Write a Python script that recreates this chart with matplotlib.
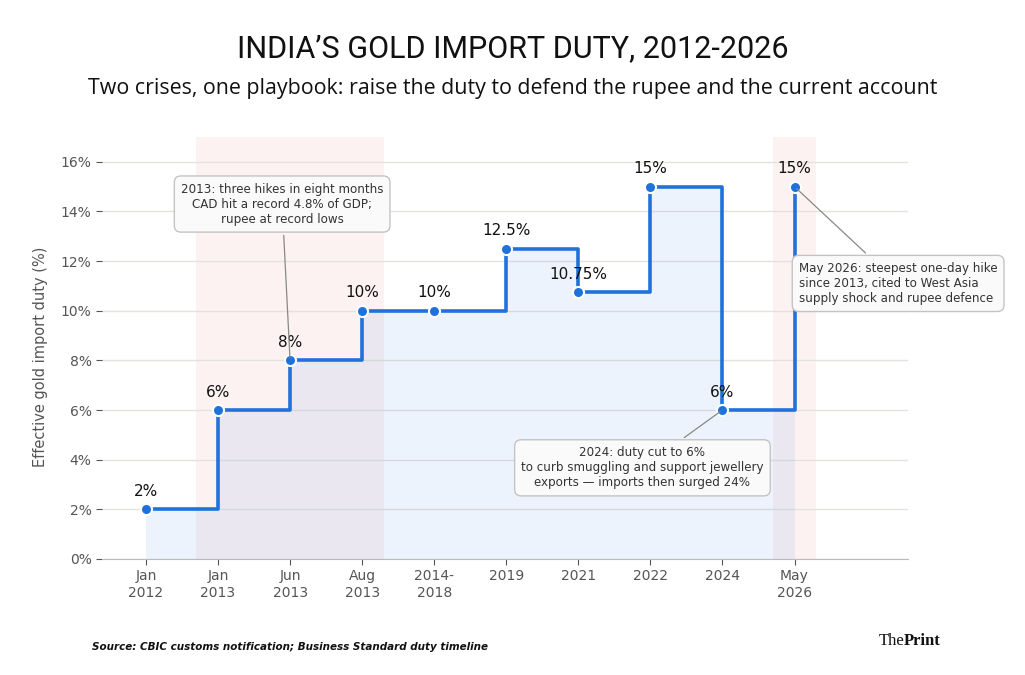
import matplotlib
matplotlib.use("Agg")
import matplotlib.pyplot as plt
import numpy as np

# data
labels = ["Jan\n2012", "Jan\n2013", "Jun\n2013", "Aug\n2013", "2014-\n2018",
          "2019", "2021", "2022", "2024", "May\n2026"]
duty = [2, 6, 8, 10, 10, 12.5, 10.75, 15, 6, 15]
value_text = ["2%", "6%", "8%", "10%", "10%", "12.5%", "10.75%", "15%", "6%", "15%"]
crisis_spans = [(0.7, 3.3), (8.7, 9.3)]

blue = "#1f72dc"
x = np.arange(len(duty))

fig = plt.figure(figsize=(10.25, 6.75), dpi=100)
ax = fig.add_axes([0.0995, 0.172, 0.786, 0.625])

for a, b in crisis_spans:
    ax.axvspan(a, b, color="#e98080", alpha=0.1, lw=0, zorder=0)

ax.fill_between(x, duty, step="post", color=blue, alpha=0.08, lw=0, zorder=1)
ax.step(x, duty, where="post", color=blue, lw=2.6, zorder=3)
ax.plot(x, duty, "o", color=blue, ms=8, mec="white", mew=1.5, zorder=4)

for xi, yi, t in zip(x, duty, value_text):
    ax.annotate(t, (xi, yi), xytext=(0, 7.5), textcoords="offset points",
                ha="center", va="bottom", fontsize=11, color="#111111")

box = dict(boxstyle="round,pad=0.55", fc="#fafafa", ec="#c4c4c4", lw=1)
arrow = dict(arrowstyle="-", color="#888888", lw=0.9)
ax.annotate("2013: three hikes in eight months\nCAD hit a record 4.8% of GDP;\nrupee at record lows",
            xy=(2, 8), xytext=(1.89, 14.3), ha="center", va="center",
            fontsize=8.6, color="#333333", bbox=box, arrowprops=arrow, zorder=5)
ax.annotate("2024: duty cut to 6%\nto curb smuggling and support jewellery\nexports \u2014 imports then surged 24%",
            xy=(8, 6), xytext=(6.89, 3.67), ha="center", va="center",
            fontsize=8.6, color="#333333", bbox=box, arrowprops=arrow, zorder=5)
ax.annotate("May 2026: steepest one-day hike\nsince 2013, cited to West Asia\nsupply shock and rupee defence",
            xy=(9, 15), xytext=(9.06, 11.1), ha="left", va="center",
            fontsize=8.6, color="#333333", bbox=box, arrowprops=arrow,
            annotation_clip=False, zorder=5)

ax.set_xlim(-0.61, 10.57)
ax.set_ylim(0, 17)
ax.set_xticks(x)
ax.set_xticklabels(labels)
ax.set_yticks(np.arange(0, 17, 2))
ax.set_yticklabels([f"{v}%" for v in range(0, 17, 2)])
ax.tick_params(colors="#555555", labelsize=10, length=4, color="#555555")
ax.set_ylabel("Effective gold import duty (%)", fontsize=10.5, color="#555555")
ax.yaxis.set_label_coords(-0.067, 0.478)
ax.grid(axis="y", color="#e4e2dc", lw=1)
ax.set_axisbelow(True)
for s in ["top", "right", "left"]:
    ax.spines[s].set_visible(False)
ax.spines["bottom"].set_color("#bbbbbb")

fig.text(0.5, 0.928, "INDIA\u2019S GOLD IMPORT DUTY, 2012-2026", ha="center", va="center",
         fontsize=22, family=["Roboto", "DejaVu Sans"], color="#111111")
fig.text(0.5, 0.869, "Two crises, one playbook: raise the duty to defend the rupee and the current account",
         ha="center", va="center", fontsize=15.4, family=["Open Sans", "DejaVu Sans"], color="#111111")
fig.text(0.09, 0.042, "Source: CBIC customs notification; Business Standard duty timeline",
         ha="left", va="center", fontsize=7.5, style="italic", weight="bold", color="#111111")
fig.text(0.857, 0.05, "The", ha="left", va="center", fontsize=12,
         family=["Liberation Serif", "DejaVu Serif"], color="#111111")
fig.text(0.882, 0.05, "Print", ha="left", va="center", fontsize=12, weight="bold",
         family=["Liberation Serif", "DejaVu Serif"], color="#111111")

fig.savefig("out.png", dpi=100)
